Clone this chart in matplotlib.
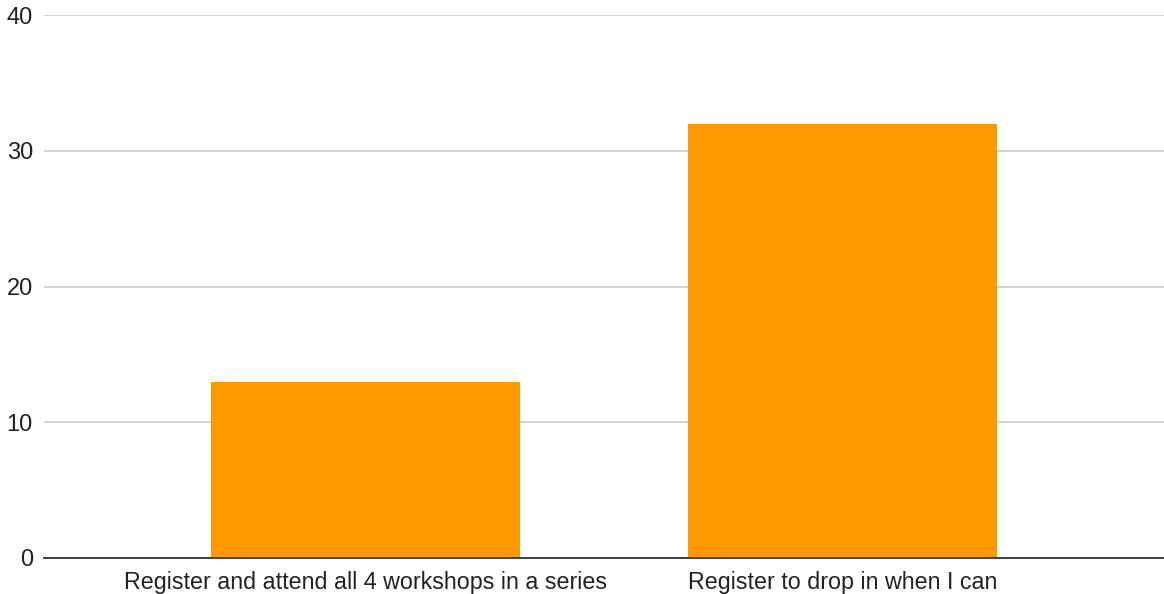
import matplotlib.pyplot as plt

plt.rcParams['font.family'] = ['Liberation Sans', 'DejaVu Sans']

categories = ['Register and attend all 4 workshops in a series', 'Register to drop in when I can']
counts = [13, 32]
yticks = [0, 10, 20, 30, 40]

fig = plt.figure(figsize=(11.64, 5.94), dpi=100)
ax = fig.add_axes([44 / 1164, 36 / 594, 1120 / 1164, 543 / 594])

ax.bar(range(len(categories)), counts, width=0.648, color='#ff9900', zorder=3)

ax.set_xlim(-0.674, 1.674)
ax.set_ylim(0, 40)
ax.set_yticks(yticks)
ax.set_xticks(range(len(categories)))
ax.set_xticklabels(categories, fontsize=16.75, color='#222222')
ax.tick_params(axis='y', labelsize=17, labelcolor='#222222', length=0, pad=8)
ax.tick_params(axis='x', length=0, pad=9)

ax.grid(axis='y', color='#cccccc', linewidth=1.2, zorder=0)
for side in ['top', 'right', 'left']:
    ax.spines[side].set_visible(False)
ax.spines['bottom'].set_color('#333333')
ax.spines['bottom'].set_linewidth(1.3)
ax.spines['bottom'].set_zorder(4)

plt.savefig('out.png', dpi=100)
